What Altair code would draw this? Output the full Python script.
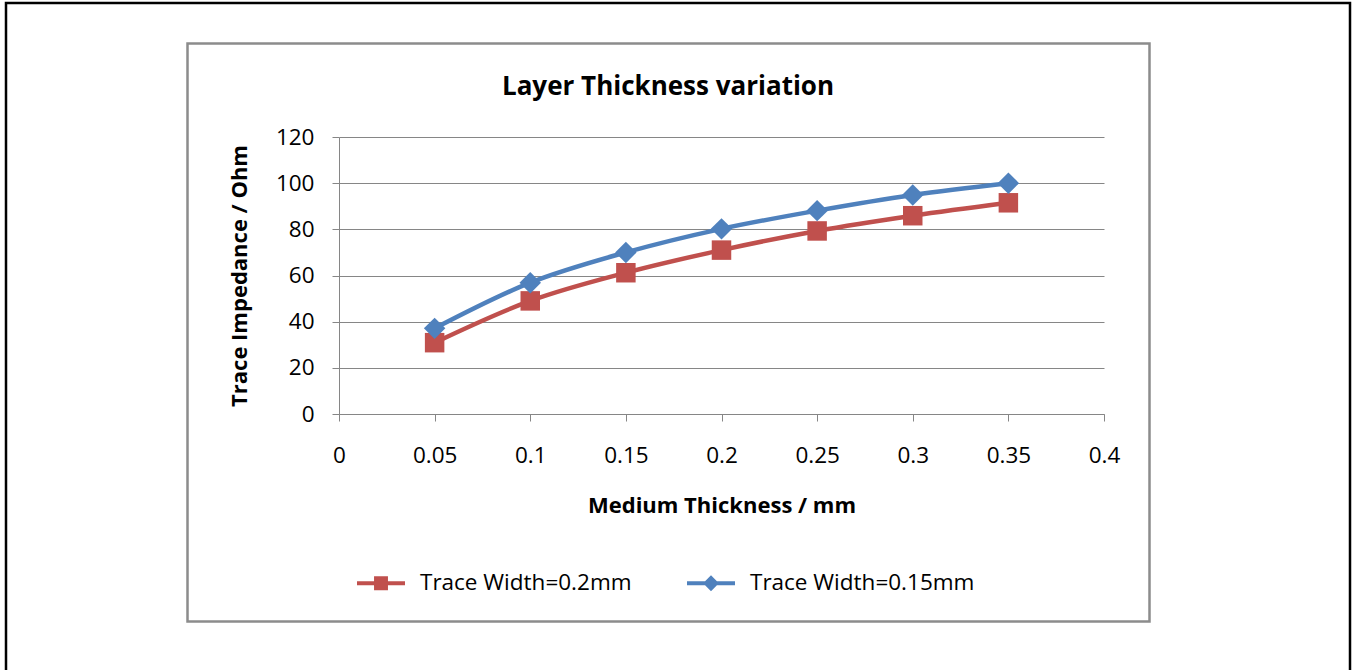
import altair as alt
import pandas as pd

# ---- data ----
thickness = [0.05, 0.1, 0.15, 0.2, 0.25, 0.3, 0.35]
imp_w020 = [30.9, 49.0, 61.2, 71.0, 79.3, 85.9, 91.5]
imp_w015 = [37.1, 56.9, 70.0, 80.2, 88.1, 94.9, 100.0]
series_names = ["Trace Width=0.2mm", "Trace Width=0.15mm"]
x_ticks = [0, 0.05, 0.1, 0.15, 0.2, 0.25, 0.3, 0.35, 0.4]
y_ticks = [0, 20, 40, 60, 80, 100, 120]
chart_title = "Layer Thickness variation"
x_title = "Medium Thickness / mm"
y_title = "Trace Impedance / Ohm"

RED = "#C0504D"
BLUE = "#4F81BD"
GRID = "#868686"
FONT = "Open Sans"

df = pd.DataFrame({
    "thickness": thickness + thickness,
    "impedance": imp_w020 + imp_w015,
    "series": [series_names[0]] * len(thickness) + [series_names[1]] * len(thickness),
})

X = alt.X(
    "thickness:Q",
    scale=alt.Scale(domain=[0, 0.4], nice=False, zero=False),
    axis=alt.Axis(
        values=x_ticks, format="~g", title=x_title, grid=False,
        labelFont=FONT, labelFontSize=22.5, labelColor="#000000", labelPadding=23,
        titleFont=FONT, titleFontSize=22, titleFontWeight="bold", titleColor="#000000",
        titlePadding=29, tickSize=7, tickColor=GRID, domainColor=GRID, labelFlush=False,
    ),
)
Y = alt.Y(
    "impedance:Q",
    scale=alt.Scale(domain=[0, 120], nice=False),
    axis=alt.Axis(
        values=y_ticks, title=y_title, grid=True, gridColor=GRID, gridOpacity=1,
        labelFont=FONT, labelFontSize=22.5, labelColor="#000000", labelPadding=18,
        titleFont=FONT, titleFontSize=22, titleFontWeight="bold", titleColor="#000000",
        titlePadding=24, tickSize=7, tickColor=GRID, domainColor=GRID,
    ),
)

one = pd.DataFrame({"t": [chart_title]})

outer_frame = alt.Chart(one).mark_rect(
    fill="transparent", stroke="#000000", strokeWidth=2.5
).encode(x=alt.value(-333), x2=alt.value(1011), y=alt.value(-134), y2=alt.value(545))

chart_frame = alt.Chart(one).mark_rect(
    fill="transparent", stroke="#8C8C8C", strokeWidth=2.5
).encode(x=alt.value(-151.5), x2=alt.value(810.5), y=alt.value(-93.5), y2=alt.value(484.5))

title_text = alt.Chart(one).mark_text(
    font=FONT, fontSize=26, fontWeight="bold", color="#000000",
    align="center", baseline="alphabetic"
).encode(x=alt.value(329), y=alt.value(-42), text="t:N")

base = alt.Chart(df)

line_red = base.transform_filter(alt.datum.series == series_names[0]).mark_line(
    color=RED, strokeWidth=4.5, interpolate="monotone"
).encode(x=X, y=Y)
line_blue = base.transform_filter(alt.datum.series == series_names[1]).mark_line(
    color=BLUE, strokeWidth=4.5, interpolate="monotone"
).encode(x=X, y=Y)

pts_red = base.transform_filter(alt.datum.series == series_names[0]).mark_point(
    shape="square", filled=True, color=RED, opacity=1, size=380
).encode(x=X, y=Y)
pts_blue = base.transform_filter(alt.datum.series == series_names[1]).mark_point(
    shape="diamond", filled=True, color=BLUE, opacity=1, size=460
).encode(x=X, y=Y)

PATH_SQ = "M-1,-0.085H1V0.085H-1Z M-0.29,-0.29H0.29V0.29H-0.29Z"
PATH_DM = "M-1,-0.085H1V0.085H-1Z M0,-0.33L0.33,0L0,0.33L-0.33,0Z"

leg = alt.Legend(
    title=None, orient="none", legendX=18, legendY=422, direction="horizontal",
    symbolSize=2304, symbolOpacity=1, symbolStrokeWidth=0,
    labelFont=FONT, labelFontSize=22.5, labelColor="#000000", labelOffset=15,
    labelLimit=500, columnPadding=55,
)

legend_layer = base.transform_filter("false").mark_point(
    filled=True, opacity=1, size=2304
).encode(
    x=X, y=Y,
    color=alt.Color("series:N", scale=alt.Scale(domain=series_names, range=[RED, BLUE]), legend=leg),
    shape=alt.Shape("series:N", scale=alt.Scale(domain=series_names, range=[PATH_SQ, PATH_DM]), legend=leg),
)

chart = alt.layer(
    outer_frame, chart_frame, line_red, line_blue, pts_red, pts_blue, legend_layer, title_text
).properties(
    width=765, height=277,
    padding={"left": 339, "top": 137, "right": 250, "bottom": 256},
    autosize=alt.AutoSizeParams(type="none"),
    background="white",
).configure_view(strokeWidth=0)

chart.save("out.html", embed_options={"renderer": "svg", "actions": False})
